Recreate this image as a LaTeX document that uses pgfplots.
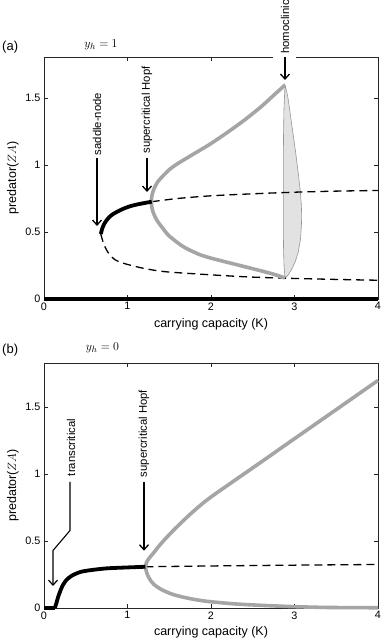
\documentclass[border=0pt]{standalone}
\usepackage{pgfplots}
\pgfplotsset{compat=1.18}
\usepackage{fontspec}
\setmainfont{Liberation Sans}
\usetikzlibrary{arrows.meta}

\definecolor{bgray}{RGB}{165,165,165}
\definecolor{lensfill}{RGB}{226,226,226}
\definecolor{lensedge}{RGB}{150,150,150}

\pgfplotsset{myaxis/.style={
  scale only axis, width=334pt,
  xmin=0, xmax=4, ymin=0,
  xtick={0,1,2,3,4}, ytick={0,0.5,1,1.5},
  /pgf/number format/assume math mode=true,
  tick label style={font=\fontsize{10.8}{12}\selectfont},
  label style={font=\fontsize{12.5}{14}\selectfont},
  xlabel={carrying capacity (K)},
  ylabel={predator($ZA$)},
  ylabel style={at={(axis description cs:-0.093,0.5)}, anchor=center},
  axis line style={black!85, line width=0.6pt},
  tick style={black!85, line width=0.6pt},
  major tick length=4pt,
  clip=false,
}}
\tikzset{
  stab/.style={black, line width=3.8pt, line join=round},
  unst/.style={black, line width=1.3pt, dash pattern=on 8pt off 5pt},
  orb/.style={bgray, line width=3.6pt, line join=round},
  ann/.style={font=\fontsize{11.3}{13}\selectfont, rotate=90, inner sep=0pt},
  arr/.style={line width=1.3pt, -{Straight Barb[length=5pt,width=9pt,line width=1.3pt]}},
}

\begin{document}
\begin{tikzpicture}
\useasboundingbox (0pt,0pt) rectangle (385pt,639pt);

% ---------------- panel (a)
\begin{axis}[myaxis, at={(44pt,340pt)}, anchor=south west, height=242pt, ymax=1.806,
  xlabel style={at={(axis description cs:0.5,0)}, yshift=-25pt, anchor=center}]
% homoclinic lens
\addplot[fill=lensfill, draw=lensedge, line width=0.6pt] coordinates {
(2.886,1.597) (2.905,1.55) (2.922,1.5) (2.945,1.4) (2.967,1.3) (2.99,1.2) (3.012,1.1)
(3.033,1.0) (3.052,0.9) (3.07,0.8) (3.082,0.7) (3.086,0.62) (3.083,0.55) (3.072,0.45)
(3.045,0.35) (3.01,0.28) (2.965,0.22) (2.925,0.18) (2.886,0.155)
(2.874,0.25) (2.868,0.4) (2.866,0.6) (2.866,0.9) (2.868,1.2) (2.874,1.42) (2.886,1.597)
} -- cycle;
% unstable branches
\addplot[unst, smooth] coordinates {
(0.68,0.485) (0.70,0.44) (0.73,0.39) (0.78,0.335) (0.85,0.293) (0.95,0.267) (1.05,0.25)
(1.2,0.228) (1.43,0.205) (1.83,0.187) (2.4,0.166) (2.9,0.155) (3.5,0.146) (4,0.14)
};
\addplot[unst, smooth] coordinates {
(1.29,0.726) (1.6,0.75) (2.0,0.77) (2.5,0.785) (3.0,0.797) (3.5,0.805) (4,0.81)
};
% periodic orbit extrema
\addplot[orb, smooth] coordinates {
(2.886,1.597) (2.75,1.52) (2.6,1.435) (2.4,1.335) (2.2,1.245) (2.0,1.16) (1.8,1.085)
(1.6,1.01) (1.5,0.965) (1.42,0.915) (1.364,0.876) (1.32,0.826) (1.294,0.776) (1.285,0.726)
(1.294,0.676) (1.32,0.626) (1.364,0.576) (1.42,0.53) (1.5,0.47) (1.67,0.39) (1.85,0.335)
(2.0,0.305) (2.27,0.262) (2.6,0.21) (2.75,0.185) (2.886,0.157)
};
% stable branches
\addplot[stab, smooth] coordinates {
(0.68,0.485) (0.70,0.53) (0.73,0.57) (0.78,0.61) (0.83,0.635) (0.93,0.668) (1.03,0.692)
(1.15,0.71) (1.29,0.726)
};
\addplot[stab] coordinates {(0,0) (4,0)};
\end{axis}

% ---------------- panel (b)
\begin{axis}[myaxis, at={(44pt,31pt)}, anchor=south west, height=245pt, ymax=1.83,
  xlabel style={at={(axis description cs:0.5,0)}, yshift=-24pt, anchor=center}]
\addplot[unst, smooth] coordinates {
(1.215,0.308) (2,0.314) (3,0.32) (4,0.325)
};
\addplot[orb, smooth] coordinates {
(4,1.70) (3.5,1.482) (2.95,1.243) (2.6,1.09) (2.23,0.93) (1.95,0.806) (1.75,0.70)
(1.55,0.58) (1.4,0.48) (1.31,0.41) (1.25,0.365) (1.225,0.335) (1.215,0.308)
(1.222,0.282) (1.235,0.255) (1.26,0.222) (1.31,0.18) (1.4,0.14) (1.55,0.10)
(1.75,0.07) (1.95,0.05) (2.3,0.03) (2.67,0.018) (3.0,0.01) (3.4,0.004) (4,0.002)
};
\addplot[stab] coordinates {(0,0) (0.13,0)};
\addplot[stab, smooth] coordinates {
(0.13,0) (0.15,0.04) (0.17,0.084) (0.2,0.135) (0.23,0.175) (0.27,0.21) (0.33,0.24)
(0.43,0.268) (0.55,0.282) (0.75,0.296) (1.0,0.303) (1.215,0.308)
};
\end{axis}

% ---------------- annotations
\node[anchor=west, inner sep=0pt, font=\fontsize{13}{15}\selectfont] at (2pt,592pt) {(a)};
\node[font=\fontsize{13}{15}\selectfont] at (101pt,594pt) {$y_h = 1$};
\node[anchor=west, inner sep=0pt, font=\fontsize{13}{15}\selectfont] at (2pt,289pt) {(b)};
\node[font=\fontsize{13}{15}\selectfont] at (102.5pt,291pt) {$y_h = 0$};

% (a)
\node[ann] at (97pt,515pt) {saddle-node};
\draw[arr] (97pt,481pt) -- (97pt,413pt);
\node[ann] at (147pt,529pt) {supercritical Hopf};
\draw[arr] (147pt,481pt) -- (147pt,447pt);
\fill[white] (273pt,578pt) rectangle (296pt,586pt);
\node[ann] at (285pt,612pt) {homoclinic};
\draw[arr] (285pt,582pt) -- (285pt,559pt);

% (b)
\node[ann] at (71pt,191.5pt) {transcritical};
\draw[line width=1.1pt, line join=round, -{Straight Barb[length=5pt,width=9pt,line width=1.2pt]}]
  (70pt,157pt) -- (70pt,108.5pt) -- (53pt,88.5pt) -- (53pt,53pt);
\node[ann] at (144pt,205.5pt) {supercritical Hopf};
\draw[arr] (144pt,157pt) -- (144pt,88.3pt);
\end{tikzpicture}
\end{document}
